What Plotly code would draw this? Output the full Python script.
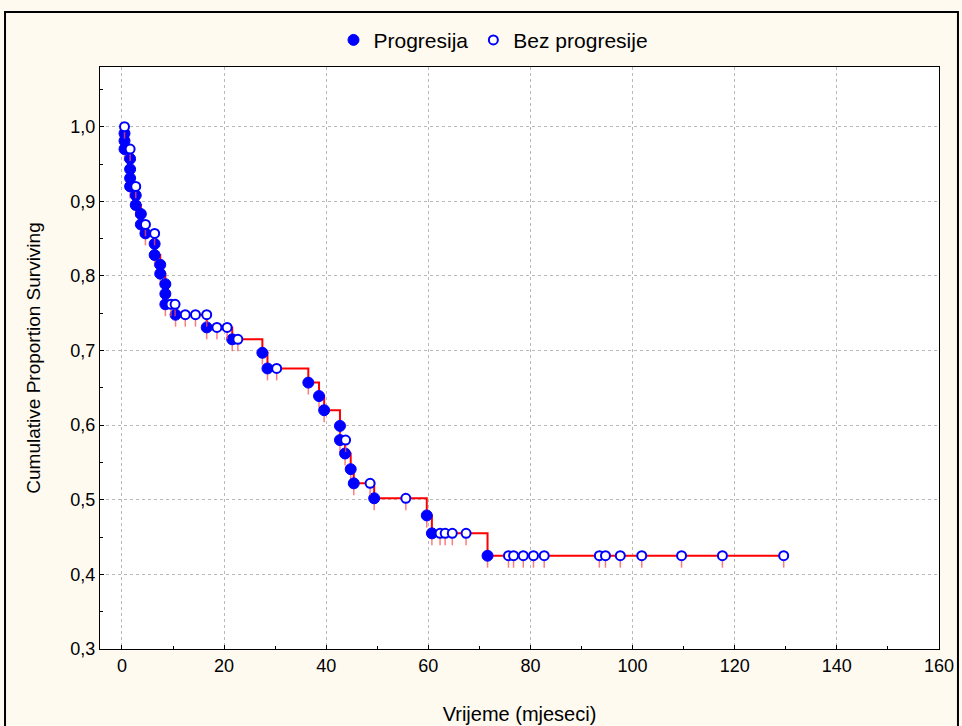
import plotly.graph_objects as go

# Progresija (events): time (months), cumulative proportion surviving
event_t = [0.5, 0.5, 0.5, 1.6, 1.6, 1.6, 1.6, 2.7, 2.7, 3.7, 3.7, 4.6,
           6.4, 6.4, 7.5, 7.5, 8.5, 8.5, 8.5, 10.5, 16.6, 21.6, 27.5, 28.5,
           36.5, 38.6, 39.6, 42.7, 42.7, 43.7, 44.8, 45.4, 49.4, 59.7, 60.7, 71.6]
event_s = [0.991, 0.981, 0.970, 0.957, 0.943, 0.931, 0.920, 0.908, 0.895, 0.883, 0.869, 0.857,
           0.843, 0.828, 0.815, 0.803, 0.789, 0.776, 0.762, 0.748, 0.731, 0.715, 0.697, 0.676,
           0.657, 0.639, 0.620, 0.599, 0.580, 0.562, 0.541, 0.522, 0.502, 0.479, 0.455, 0.425]

# Bez progresije (censored)
cens_t = [0.5, 1.6, 2.7, 4.6, 6.4, 9.6, 10.4, 12.4, 14.4, 16.6, 18.6, 20.6, 22.7, 30.3,
          43.8, 48.6, 55.6, 62.3, 63.3, 64.7, 67.4,
          75.7, 76.7, 78.6, 80.6, 82.7, 93.5, 94.7, 97.6, 101.8, 109.6, 117.6, 129.6]
cens_s = [1.0, 0.970, 0.920, 0.869, 0.857, 0.762, 0.762, 0.748, 0.748, 0.748, 0.731, 0.731, 0.715, 0.676,
          0.580, 0.522, 0.502, 0.455, 0.455, 0.455, 0.455,
          0.425, 0.425, 0.425, 0.425, 0.425, 0.425, 0.425, 0.425, 0.425, 0.425, 0.425, 0.425]

end_t = 130.6
x_ticks = [0, 20, 40, 60, 80, 100, 120, 140, 160]
y_ticks = [0.3, 0.4, 0.5, 0.6, 0.7, 0.8, 0.9, 1.0]

FONT = "Liberation Sans, Arial, sans-serif"

# step line (Kaplan-Meier curve)
line_x = [event_t[0]] + event_t + [end_t]
line_y = [1.0] + event_s + [event_s[-1]]

fig = go.Figure()
fig.add_trace(go.Scatter(x=line_x, y=line_y, mode="lines", line=dict(color="#ff0000", width=2, shape="hv"),
                         showlegend=False, hoverinfo="skip"))

err = dict(type="data", symmetric=False, color="rgba(255,80,80,0.75)", thickness=1.5, width=0)

fig.add_trace(go.Scatter(x=event_t, y=event_s, mode="markers", name="Progresija",
                         marker=dict(symbol="circle", size=11, color="#0000ff",
                                     line=dict(color="#0000ff", width=1)),
                         error_y=dict(err, array=[0] * len(event_t), arrayminus=[0.016] * len(event_t))))
fig.add_trace(go.Scatter(x=cens_t, y=cens_s, mode="markers", name="Bez progresije",
                         marker=dict(symbol="circle", size=9, color="white",
                                     line=dict(color="#0000ff", width=2)),
                         error_y=dict(err, array=[0] * len(cens_t), arrayminus=[0.016] * len(cens_t))))

fig.update_layout(
    width=962, height=726,
    margin=dict(l=100, r=23, t=67, b=77),
    paper_bgcolor="#fffaf0",
    plot_bgcolor="white",
    separators=", ",
    font=dict(family=FONT, size=18, color="black"),
    legend=dict(orientation="h", x=0.469, y=1.046, xanchor="center", yanchor="middle",
                bgcolor="rgba(0,0,0,0)", font=dict(size=21), itemwidth=30),
    xaxis=dict(range=[-4.3, 160.02], tickvals=x_ticks, showgrid=True, automargin=False,
               gridcolor="#b8b8b8", griddash="dot", gridwidth=1, zeroline=False,
               showline=True, linecolor="black", linewidth=1, mirror=True,
               ticks="inside", ticklen=4, tickcolor="black",
               minor=dict(dtick=10, tick0=0, ticks="inside", ticklen=3, tickcolor="black", showgrid=False),
               title=dict(text="Vrijeme (mjeseci)", standoff=32, font=dict(size=20)),
               tickfont=dict(size=18)),
    yaxis=dict(range=[0.3, 1.08], tickvals=y_ticks, tickformat=".1f", showgrid=True, automargin=False,
               gridcolor="#b8b8b8", griddash="dot", gridwidth=1, zeroline=False,
               showline=True, linecolor="black", linewidth=1, mirror=True,
               ticks="inside", ticklen=4, tickcolor="black",
               minor=dict(dtick=0.05, ticks="inside", ticklen=3, tickcolor="black", showgrid=False),
               title=dict(text="Cumulative Proportion Surviving", standoff=24, font=dict(size=19)),
               tickfont=dict(size=18)),
    shapes=[dict(type="rect", xref="paper", yref="paper", x0=-0.1132, x1=1.0226, y0=-0.2, y1=1.0945,
                 line=dict(color="black", width=2), fillcolor="rgba(0,0,0,0)", layer="below")],
)

fig.write_html("out.html", config={"displayModeBar": False},
               post_script="document.body.style.margin='0';document.body.style.overflow='hidden';")
